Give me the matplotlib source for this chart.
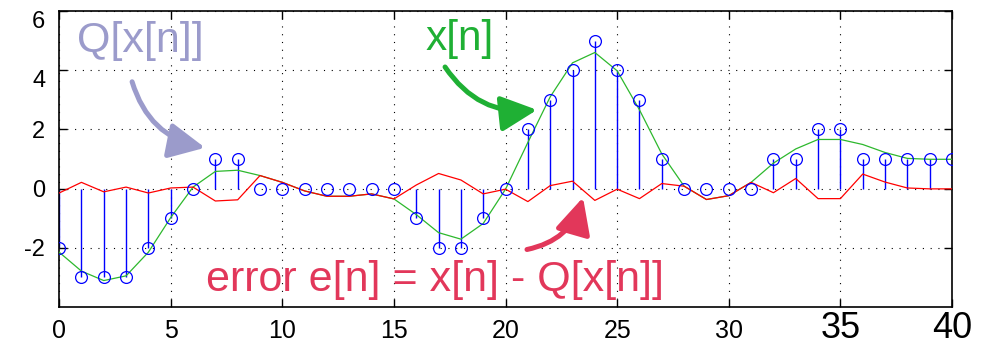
import numpy as np
import matplotlib.pyplot as plt

plt.rcParams['font.family'] = ['Liberation Sans', 'DejaVu Sans']
plt.rcParams['axes.unicode_minus'] = False

# samples
n = np.arange(41)
x = [-2.15, -2.79, -3.11, -2.95, -2.15, -0.98, 0.05, 0.58, 0.62, 0.44,
     0.21, -0.08, -0.26, -0.26, -0.18, -0.35, -0.88, -1.49, -1.71, -1.18,
     -0.02, 1.56, 3.10, 4.25, 4.60, 3.98, 2.66, 1.17, 0.08, -0.37,
     -0.24, 0.21, 0.86, 1.34, 1.66, 1.66, 1.49, 1.22, 1.02, 0.99, 0.99]
# quantised samples
q = [-2, -3, -3, -3, -2, -1, 0, 1, 1, 0,
     0, 0, 0, 0, 0, 0, -1, -2, -2, -1,
     0, 2, 3, 4, 5, 4, 3, 1, 0, 0,
     0, 0, 1, 1, 2, 2, 1, 1, 1, 1, 1]
x = np.array(x)
q = np.array(q)
err = x - q

xticks = [0, 5, 10, 15, 20, 25, 30, 35, 40]
yticks = [-2, 0, 2, 4, 6]

c_q = '#9b9bcb'
c_x = '#1fb034'
c_e = '#e2375a'

fig = plt.figure(figsize=(9.85, 3.46), dpi=100)
ax = fig.add_axes([0.06, 0.113, 0.9065, 0.855])

ax.plot(n, x, color='#2db82d', lw=0.9, zorder=3)
ax.plot(n, err, color='red', lw=0.9, zorder=3)
ax.vlines(n, 0, q, color='blue', lw=1.0, zorder=2)
ax.plot(n, q, 'o', mfc='none', mec='blue', ms=8.5, mew=0.9, zorder=4)

ax.set_xlim(0, 40)
ax.set_ylim(-4, 6)
ax.set_xticks(xticks)
ax.set_yticks(yticks)
ax.grid(True, color='black', linestyle=(0, (1, 6)), lw=0.8)
ax.tick_params(direction='in', length=6, width=1, top=True, right=True,
               labelsize=17)
ax.tick_params(axis='x', pad=22.5, labelsize=18)
ax.tick_params(axis='y', pad=10)
for lab in ax.get_xticklabels():
    lab.set_va('baseline')
    if lab.get_text() in ('35', '40'):
        lab.set_fontsize(26)
for lab in ax.get_yticklabels():
    if lab.get_text() in ('4', '6'):
        lab.set_va('top')
for s in ax.spines.values():
    s.set_linewidth(1.2)

# labels with curved arrows
head = '-|>,head_length=0.55,head_width=0.27'

ax.text(3.63, 4.99, 'Q[x[n]]', color=c_q, fontsize=31, ha='center', va='center')
ax.annotate('', xy=(6.54, 1.38), xytext=(3.27, 3.61),
            arrowprops=dict(arrowstyle=head, mutation_scale=40,
                            connectionstyle='arc3,rad=0.3',
                            color=c_q, lw=3.6, shrinkA=0, shrinkB=0))

ax.text(17.94, 5.06, 'x[n]', color=c_x, fontsize=30.5, ha='center', va='center')
ax.annotate('', xy=(21.41, 2.66), xytext=(17.29, 4.11),
            arrowprops=dict(arrowstyle=head, mutation_scale=40,
                            connectionstyle='arc3,rad=0.3',
                            color=c_x, lw=3.6, shrinkA=0, shrinkB=0))

ax.text(16.84, -3.10, 'error e[n] = x[n] - Q[x[n]]', color=c_e, fontsize=31,
        ha='center', va='center')
ax.annotate('', xy=(23.47, -0.30), xytext=(20.96, -2.06),
            arrowprops=dict(arrowstyle=head, mutation_scale=40,
                            connectionstyle='arc3,rad=0.3',
                            color=c_e, lw=3.6, shrinkA=0, shrinkB=0))

fig.savefig('out.png', dpi=100)
